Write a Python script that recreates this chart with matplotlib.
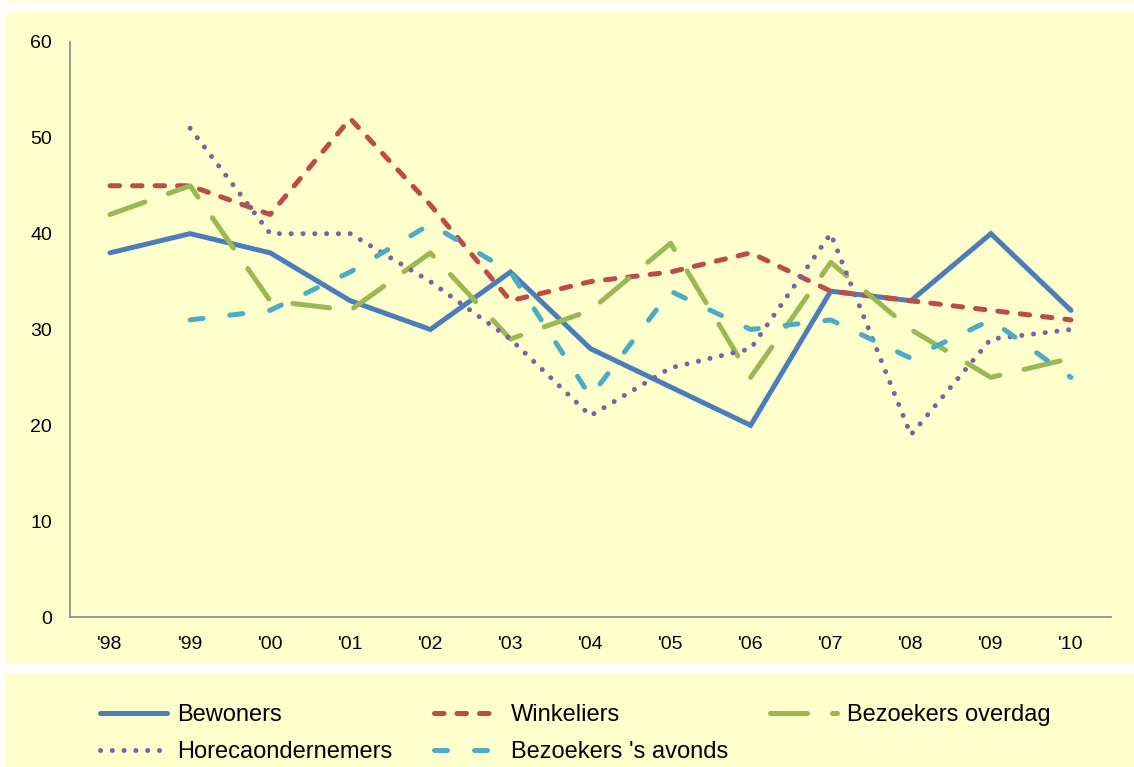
import matplotlib
matplotlib.use("Agg")
import matplotlib.pyplot as plt
from matplotlib.patches import Rectangle

plt.rcParams['font.family'] = ['Liberation Sans', 'DejaVu Sans']

years = ["'98", "'99", "'00", "'01", "'02", "'03", "'04", "'05", "'06", "'07", "'08", "'09", "'10"]
bewoners = [38, 40, 38, 33, 30, 36, 28, 24, 20, 34, 33, 40, 32]
winkeliers = [45, 45, 42, 52, 43, 33, 35, 36, 38, 34, 33, 32, 31]
bezoekers_overdag = [42, 45, 33, 32, 38, 29, 32, 39, 25, 37, 30, 25, 27]
horeca = [None, 51, 40, 40, 35, 29, 21, 26, 28, 40, 19, 29, 30]
bezoekers_avonds = [None, 31, 32, 36, 41, 36, 23, 34, 30, 31, 27, 31, 25]
y_ticks = [0, 10, 20, 30, 40, 50, 60]

W, H = 1134, 767
fig = plt.figure(figsize=(W / 100, H / 100), dpi=100)
fig.patch.set_facecolor('white')
bg = '#FFFFCC'

def band(x0, y0, x1, y1):
    fig.patches.append(Rectangle((x0 / W, 1 - y1 / H), (x1 - x0) / W, (y1 - y0) / H,
                                 transform=fig.transFigure, facecolor=bg, edgecolor='none', zorder=-10))

band(5, 0, W, 2)
band(5, 12, W, 663)
band(5, 673, W, H)

ax = fig.add_axes([70 / W, 1 - 617 / H, (1111 - 70) / W, (617 - 42) / H])
ax.set_facecolor(bg)
ax.patch.set_alpha(0)

x = list(range(len(years)))
lw = 3.6

def nanify(v):
    return [float('nan') if a is None else a for a in v]

l1, = ax.plot(x, bewoners, color='#4A7EBB', lw=lw, solid_capstyle='round', solid_joinstyle='miter', label='Bewoners')
l2, = ax.plot(x, winkeliers, color='#BE4B48', lw=lw, linestyle=(0, (1.9, 2.6)), dash_capstyle='round', label='Winkeliers')
l3, = ax.plot(x, bezoekers_overdag, color='#98B954', lw=lw, linestyle=(0, (7.4, 5.0)), dash_capstyle='round', label='Bezoekers overdag')
l4, = ax.plot(x, nanify(horeca), color='#7F60A8', lw=lw, linestyle=(0, (0.01, 2.35)), dash_capstyle='round', label='Horecaondernemers')
l5, = ax.plot(x, nanify(bezoekers_avonds), color='#4BACC6', lw=lw, linestyle=(0, (2.6, 5.4)), dash_capstyle='round', label="Bezoekers 's avonds")

ax.set_xlim(-0.5, len(years) - 0.5)
ax.set_ylim(0, 60)
ax.set_yticks(y_ticks)
ax.set_xticks(x)
ax.set_xticklabels(years)
for s in ['top', 'right']:
    ax.spines[s].set_visible(False)
for s in ['left', 'bottom']:
    ax.spines[s].set_color('#868686')
    ax.spines[s].set_linewidth(1.2)
ax.tick_params(axis='both', length=0, labelsize=14, colors='black')
ax.tick_params(axis='y', pad=13)
ax.tick_params(axis='x', pad=14)

leg = fig.legend([l1, l4, l2, l5, l3],
                 ['Bewoners', 'Horecaondernemers', 'Winkeliers', "Bezoekers 's avonds", 'Bezoekers overdag'],
                 ncol=3, loc='upper left', bbox_to_anchor=(100 / W, 1 - 704 / H),
                 frameon=False, fontsize=17, handlelength=2.85, handletextpad=0.42,
                 columnspacing=1.75, labelspacing=0.64, borderpad=0, borderaxespad=0)

fig.savefig('out.png', dpi=100, facecolor='white')
